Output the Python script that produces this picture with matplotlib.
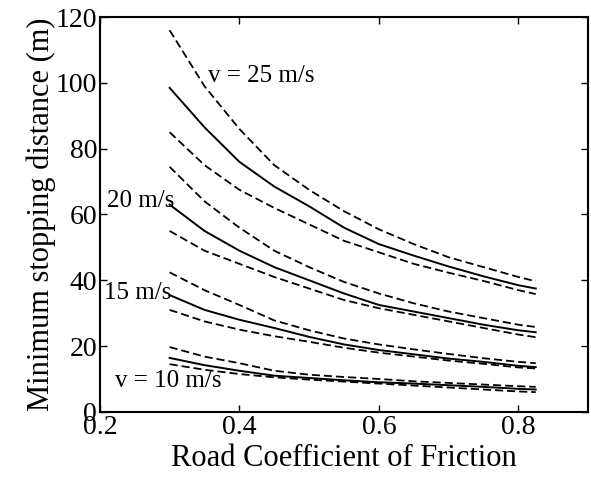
import matplotlib
matplotlib.use('Agg')
import matplotlib.pyplot as plt

plt.rcParams['font.family'] = ['Liberation Serif', 'DejaVu Serif']

# friction coefficients where the distances were evaluated
mu = [0.3, 0.35, 0.4, 0.45, 0.5, 0.55, 0.6, 0.65, 0.7, 0.75, 0.8, 0.825]

# v = 25 m/s: upper bound, nominal, lower bound
upper_25 = [116, 99, 86, 75, 67.5, 61, 55.5, 51, 47, 44, 41, 39.7]
nominal_25 = [98.5, 86.5, 76, 68.5, 62.5, 56, 51, 47.5, 44.2, 41.2, 38.5, 37.5]
lower_25 = [85, 75, 67.5, 62, 57, 52, 48.5, 45, 42.3, 39.8, 37, 35.8]

# v = 20 m/s
upper_20 = [74.5, 64, 56, 49, 44, 39.5, 36, 33, 30.5, 28.5, 26.5, 25.8]
nominal_20 = [63, 55, 49, 44, 40, 36, 32.5, 30.5, 28.5, 26.5, 24.8, 24.2]
lower_20 = [55, 49, 45, 41, 37.5, 34, 31.5, 29.5, 27.5, 25.5, 23.5, 22.7]

# v = 15 m/s
upper_15 = [42.4, 37, 32.5, 27.8, 24.8, 22.3, 20.5, 19, 17.6, 16.3, 15.2, 14.8]
nominal_15 = [35.5, 31, 28, 25.5, 22.8, 20.5, 18.8, 17.5, 16.2, 15.2, 14, 13.6]
lower_15 = [31, 27.5, 25, 23, 21.3, 19.5, 18, 16.8, 15.6, 14.6, 13.5, 13.2]

# v = 10 m/s
upper_10 = [19.7, 16.8, 14.8, 12.5, 11.3, 10.6, 10, 9.3, 8.8, 8.3, 7.8, 7.6]
nominal_10 = [16.4, 14.2, 12.5, 11, 10.3, 9.6, 9, 8.6, 8.1, 7.6, 7, 6.8]
lower_10 = [14.5, 12.8, 11.5, 10.5, 9.8, 9.2, 8.6, 8, 7.4, 6.8, 6.2, 6.0]

groups = [
    (upper_25, nominal_25, lower_25),
    (upper_20, nominal_20, lower_20),
    (upper_15, nominal_15, lower_15),
    (upper_10, nominal_10, lower_10),
]

# speed labels: text, x, y
labels = [
    ('v = 25 m/s', 0.355, 102),
    ('20 m/s', 0.21, 64),
    ('15 m/s', 0.206, 36),
    ('v = 10 m/s', 0.222, 9.5),
]

fig = plt.figure(figsize=(5.91, 4.88), dpi=100)
ax = fig.add_axes([0.169, 0.156, 0.826, 0.809])

for hi, nom, lo in groups:
    ax.plot(mu, hi, color='black', lw=1.3, dashes=(4.5, 2.2))
    ax.plot(mu, nom, color='black', lw=1.4)
    ax.plot(mu, lo, color='black', lw=1.3, dashes=(4.5, 2.2))

for txt, x, y in labels:
    ax.text(x, y, txt, fontsize=18, va='center', ha='left')

ax.set_xlim(0.2, 0.9)
ax.set_ylim(0, 120)
ax.set_xticks([0.2, 0.4, 0.6, 0.8])
ax.set_yticks(range(0, 121, 20))
ax.tick_params(direction='in', length=5, width=1, labelsize=20,
               top=True, right=True, pad=2)
for s in ax.spines.values():
    s.set_linewidth(1.5)

ax.set_xlabel('Road Coefficient of Friction', fontsize=22, labelpad=3)
ax.set_ylabel('Minimum stopping distance (m)', fontsize=22, labelpad=0)

fig.savefig('out.png', dpi=100)
